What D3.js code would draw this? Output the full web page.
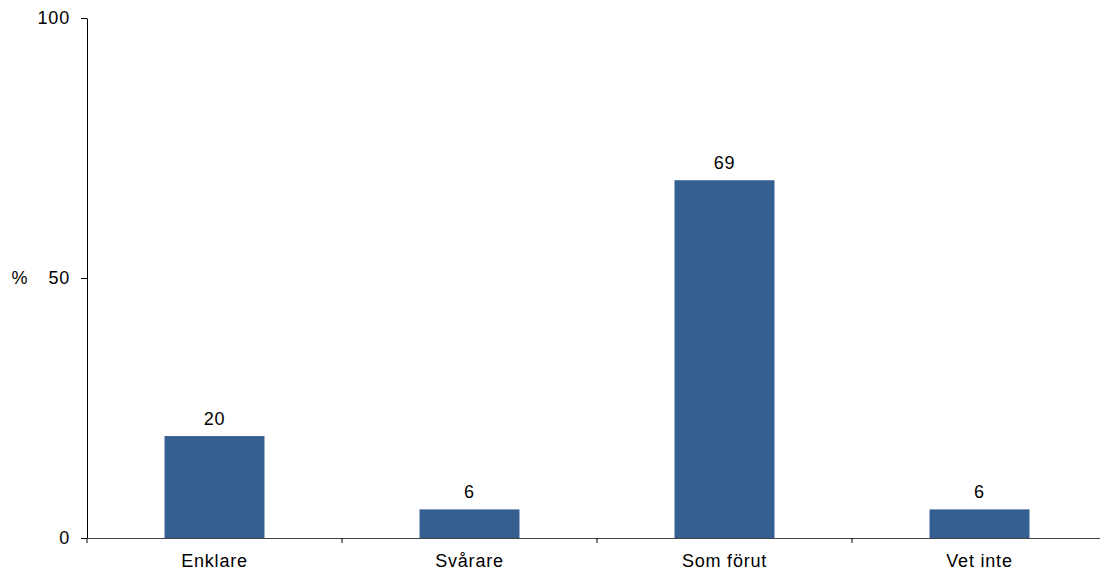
<!DOCTYPE html>
<html><head><meta charset="utf-8">
<script src="https://cdn.jsdelivr.net/npm/d3@7"></script>
<style>
body{margin:0;background:#fff;}
text{font-family:"Liberation Sans",Arial,sans-serif;font-size:18px;fill:#000;letter-spacing:0.8px;}
</style></head>
<body><svg id="c" width="1100" height="575"></svg>
<script>
const categories = ["Enklare", "Svårare", "Som förut", "Vet inte"];
const values = [19.6, 5.5, 68.8, 5.5];
const yTicks = [0, 50, 100];
const yLabel = "%";

const svg = d3.select("#c");
const m = {left: 87, top: 18, bottom: 538, right: 1107};
const x = d3.scaleBand().domain(categories).range([m.left, m.right]).padding(0);
const y = d3.scaleLinear().domain([0, 100]).range([m.bottom, m.top]);
const barW = x.bandwidth() * 0.392;
const fmt = d3.format(".0f");

// bars
svg.selectAll("rect.bar").data(values).enter().append("rect")
  .attr("x", (d, i) => x(categories[i]) + (x.bandwidth() - barW) / 2)
  .attr("y", d => y(d))
  .attr("width", barW)
  .attr("height", d => y(0) - y(d))
  .attr("fill", "#365F91");

// value labels
svg.selectAll("text.val").data(values).enter().append("text")
  .attr("x", (d, i) => x(categories[i]) + x.bandwidth() / 2)
  .attr("y", d => y(d) - 11)
  .attr("text-anchor", "middle")
  .text(d => fmt(d));

// y axis
const ya = svg.append("g").attr("transform", `translate(${m.left},0)`)
  .call(d3.axisLeft(y).tickValues(yTicks).tickSize(6).tickPadding(11).tickSizeOuter(0));
ya.select(".domain").attr("stroke", "#000");
ya.selectAll(".tick line").attr("stroke", "#000");
ya.selectAll("text").attr("font-size", null).attr("font-family", null);

// x axis
const xa = svg.append("g").attr("transform", `translate(0,${m.bottom})`)
  .call(d3.axisBottom(x).tickSize(0).tickPadding(16).tickSizeOuter(0));
xa.select(".domain").attr("stroke", "#444");
xa.selectAll("text").attr("font-size", null).attr("font-family", null);
// category separators
const seps = categories.map(c => x(c)).concat([m.right]);
xa.selectAll("line.sep").data(seps).enter().append("line")
  .attr("x1", d => d).attr("x2", d => d).attr("y1", 0).attr("y2", 5)
  .attr("stroke", "#000");

// % label
svg.append("text").attr("x", 20).attr("y", y(50)).attr("dy", "0.32em")
  .attr("text-anchor", "middle").text(yLabel);
</script></body></html>
